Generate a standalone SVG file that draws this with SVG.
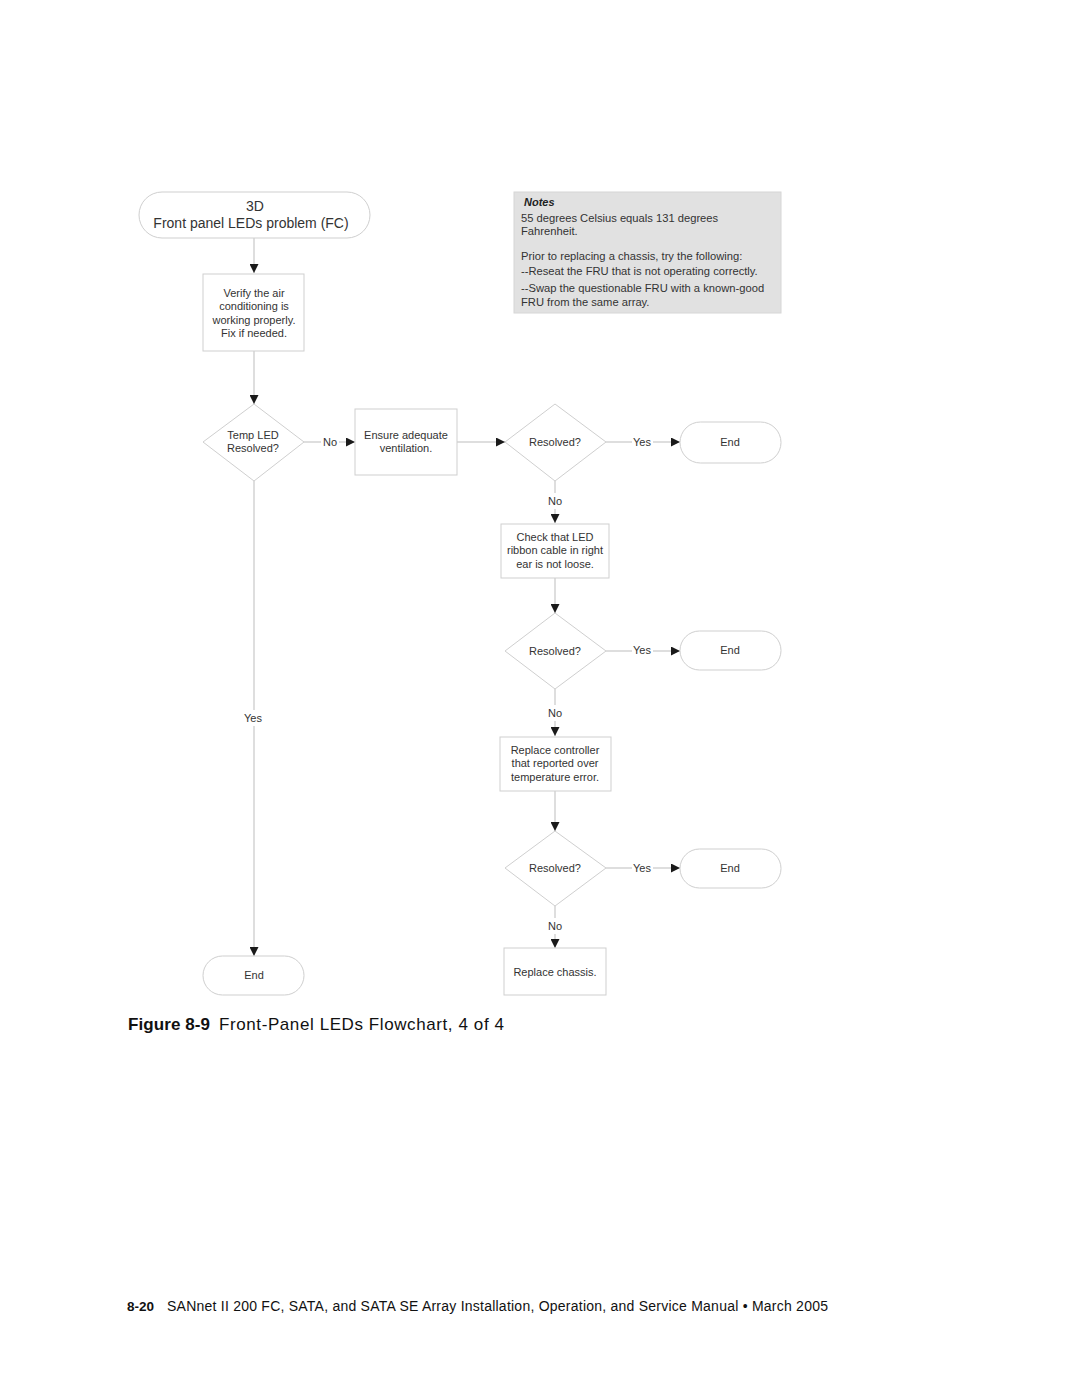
<svg xmlns="http://www.w3.org/2000/svg" width="1080" height="1397" viewBox="0 0 1080 1397">
<style>
.n{fill:#fff;stroke:#cfcfcf;stroke-width:1}
.t{font-family:"Liberation Sans",Arial,sans-serif;font-size:11px;fill:#333;text-anchor:middle}
.c{fill:none;stroke:#bdbdbd;stroke-width:1}
.l{font-family:"Liberation Sans",Arial,sans-serif;font-size:11px;fill:#333;text-anchor:middle}
</style>
<defs>
<marker id="a" viewBox="0 0 10 10" refX="10" refY="5" markerWidth="9" markerHeight="9" markerUnits="userSpaceOnUse" orient="auto">
<path d="M0,0 L10,5 L0,10 Z" fill="#1a1a1a"/>
</marker>
</defs>
<rect width="1080" height="1397" fill="#fff"/>

<g id="connectors">
<path class="c" d="M254,238 V273" marker-end="url(#a)"/>
<path class="c" d="M254,351 V404" marker-end="url(#a)"/>
<path class="c" d="M304,442 H321"/>
<path class="c" d="M339,442 H355" marker-end="url(#a)"/>
<text class="l" x="330" y="446">No</text>
<path class="c" d="M457,442 H505" marker-end="url(#a)"/>
<path class="c" d="M606,442 H632"/>
<path class="c" d="M653,442 H680" marker-end="url(#a)"/>
<text class="l" x="642" y="446">Yes</text>
<path class="c" d="M555,481 V493"/>
<path class="c" d="M555,509 V523" marker-end="url(#a)"/>
<text class="l" x="555" y="505">No</text>
<path class="c" d="M555,578 V613" marker-end="url(#a)"/>
<path class="c" d="M606,651 H632"/>
<path class="c" d="M653,651 H680" marker-end="url(#a)"/>
<text class="l" x="642" y="654">Yes</text>
<path class="c" d="M555,689 V705"/>
<path class="c" d="M555,721 V736" marker-end="url(#a)"/>
<text class="l" x="555" y="717">No</text>
<path class="c" d="M555,791 V831" marker-end="url(#a)"/>
<path class="c" d="M606,868 H632"/>
<path class="c" d="M653,868 H680" marker-end="url(#a)"/>
<text class="l" x="642" y="872">Yes</text>
<path class="c" d="M555,906 V918"/>
<path class="c" d="M555,934 V948" marker-end="url(#a)"/>
<text class="l" x="555" y="930">No</text>
<path class="c" d="M254,481 V710"/>
<path class="c" d="M254,726 V956" marker-end="url(#a)"/>
<text class="l" x="253" y="722">Yes</text>
</g>

<g id="start">
<rect class="n" x="139" y="192" width="231" height="46" rx="23"/>
<text class="t" style="font-size:14px" x="255" y="211">3D</text>
<text class="t" style="font-size:14px" x="251" y="228">Front panel LEDs problem (FC)</text>
</g>

<g id="notes">
<rect x="514" y="192" width="267" height="121" fill="#e1e1e1" stroke="#d6d6d6"/>
<text x="524" y="206" style="font-family:'Liberation Sans',Arial,sans-serif;font-size:11px;font-weight:bold;font-style:italic;fill:#222">Notes</text>
<g style="font-family:'Liberation Sans',Arial,sans-serif;font-size:11.2px;fill:#333">
<text x="521" y="222">55 degrees Celsius equals 131 degrees</text>
<text x="521" y="235">Fahrenheit.</text>
<text x="521" y="260">Prior to replacing a chassis, try the following:</text>
<text x="521" y="275">--Reseat the FRU that is not operating correctly.</text>
<text x="521" y="292">--Swap the questionable FRU with a known-good</text>
<text x="521" y="306">FRU from the same array.</text>
</g>
</g>

<g id="verify">
<rect class="n" x="203" y="274" width="101" height="77"/>
<text class="t" x="254" y="297">Verify the air</text>
<text class="t" x="254" y="310">conditioning is</text>
<text class="t" x="254" y="324">working properly.</text>
<text class="t" x="254" y="337">Fix if needed.</text>
</g>

<g id="temp-led">
<polygon class="n" points="254,404 304,442 254,481 203,442"/>
<text class="t" x="253" y="439">Temp LED</text>
<text class="t" x="253" y="452">Resolved?</text>
</g>

<g id="ventilation">
<rect class="n" x="355" y="409" width="102" height="66"/>
<text class="t" x="406" y="439">Ensure adequate</text>
<text class="t" x="406" y="452">ventilation.</text>
</g>

<g id="resolved1">
<polygon class="n" points="555,404 606,442 555,481 505,442"/>
<text class="t" x="555" y="446">Resolved?</text>
</g>

<g id="end1">
<rect class="n" x="680" y="422" width="101" height="41" rx="20.5"/>
<text class="t" x="730" y="446">End</text>
</g>

<g id="check-ribbon">
<rect class="n" x="501" y="524" width="108" height="54"/>
<text class="t" x="555" y="541">Check that LED</text>
<text class="t" x="555" y="554">ribbon cable in right</text>
<text class="t" x="555" y="568">ear is not loose.</text>
</g>

<g id="resolved2">
<polygon class="n" points="555,613 606,651 555,689 505,651"/>
<text class="t" x="555" y="655">Resolved?</text>
</g>

<g id="end2">
<rect class="n" x="680" y="631" width="101" height="39" rx="19.5"/>
<text class="t" x="730" y="654">End</text>
</g>

<g id="replace-controller">
<rect class="n" x="500" y="737" width="111" height="54"/>
<text class="t" x="555" y="754">Replace controller</text>
<text class="t" x="555" y="767">that reported over</text>
<text class="t" x="555" y="781">temperature error.</text>
</g>

<g id="resolved3">
<polygon class="n" points="555,831 606,868 555,906 505,868"/>
<text class="t" x="555" y="872">Resolved?</text>
</g>

<g id="end3">
<rect class="n" x="680" y="849" width="101" height="39" rx="19.5"/>
<text class="t" x="730" y="872">End</text>
</g>

<g id="replace-chassis">
<rect class="n" x="504" y="948" width="102" height="47"/>
<text class="t" x="555" y="976">Replace chassis.</text>
</g>

<g id="end-left">
<rect class="n" x="203" y="956" width="101" height="39" rx="19.5"/>
<text class="t" x="254" y="979">End</text>
</g>

<g style="font-family:'Liberation Sans',Arial,sans-serif;font-size:17px;fill:#111">
<text x="128" y="1030" font-weight="bold" textLength="82" lengthAdjust="spacing">Figure 8-9</text>
<text x="219" y="1030" textLength="285" lengthAdjust="spacing">Front-Panel LEDs Flowchart, 4 of 4</text>
</g>
<g style="font-family:'Liberation Sans',Arial,sans-serif;font-size:14px;fill:#111">
<text x="127" y="1311" font-weight="bold" style="font-size:13.5px">8-20</text>
<text x="167" y="1311" textLength="661" lengthAdjust="spacing">SANnet II 200 FC, SATA, and SATA SE Array Installation, Operation, and Service Manual  •  March 2005</text>
</g>
</svg>
